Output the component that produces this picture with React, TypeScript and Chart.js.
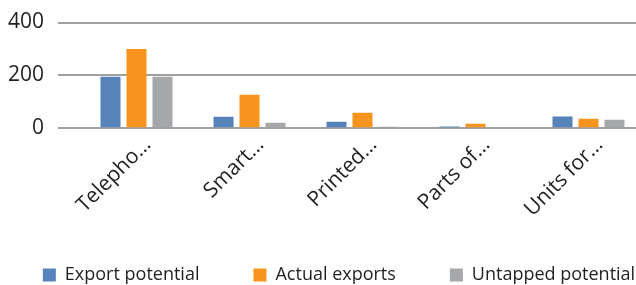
import React, { useEffect, useRef } from "react";
import { Chart, registerables } from "chart.js";

Chart.register(...registerables);

const categories = ["Telepho…", "Smart…", "Printed…", "Parts of…", "Units for…"];
const exportPotential = [195, 44, 25, 7, 45];
const actualExports = [300, 127, 59, 17, 36];
const untappedPotential = [195, 21, 6, 0, 32];
const yTicks = [0, 200, 400];

const FONT = "'Open Sans', 'Noto Sans', sans-serif";
const TEXT = "#231f20";

export default function App() {
  const ref = useRef<HTMLCanvasElement | null>(null);

  useEffect(() => {
    if (!ref.current) return;
    const chart = new Chart(ref.current, {
      type: "bar",
      data: {
        labels: categories,
        datasets: [
          { label: "Export potential", data: exportPotential, backgroundColor: "#5683b9", yAxisID: "y" },
          { label: "Actual exports", data: actualExports, backgroundColor: "#f7941e", yAxisID: "y" },
          { label: "Untapped potential", data: untappedPotential, backgroundColor: "#a6a7aa", yAxisID: "y" },
        ],
      },
      options: {
        animation: false,
        responsive: true,
        maintainAspectRatio: false,
        devicePixelRatio: 1,
        layout: { padding: { top: 22.5, left: 0, right: 0, bottom: 0 } },
        datasets: { bar: { categoryPercentage: 0.69, barPercentage: 0.77 } },
        plugins: {
          tooltip: { enabled: false },
          legend: {
            position: "bottom",
            labels: {
              boxWidth: 13,
              boxHeight: 13,
              padding: 54,
              color: TEXT,
              font: { family: FONT, size: 18 },
            },
          },
        },
        scales: {
          x: {
            grid: { display: false, drawTicks: false },
            border: { display: false },
            ticks: {
              autoSkip: false,
              maxRotation: 45,
              minRotation: 45,
              mirror: true,
              labelOffset: 29,
              padding: -22,
              color: TEXT,
              font: { family: FONT, size: 21 },
            },
            afterFit: (s: any) => {
              s.height = 83.7;
              s.paddingLeft = 0;
              s.paddingRight = 0;
            },
          },
          y: {
            min: 0,
            max: 400,
            afterBuildTicks: (s: any) => {
              s.ticks = yTicks.map((v) => ({ value: v }));
            },
            grid: { color: "#a0a0a0", lineWidth: 2, tickLength: 22, drawTicks: true },
            border: { display: false },
            ticks: {
              autoSkip: false,
              padding: 14,
              color: TEXT,
              font: { family: FONT, size: 21 },
            },
            afterFit: (s: any) => {
              s.width = 101;
              s.paddingTop = 0;
              s.paddingBottom = 0;
            },
          },
          y2: {
            position: "right",
            display: true,
            grid: { display: false, drawTicks: false },
            border: { display: false },
            ticks: { display: false },
            afterFit: (s: any) => {
              s.width = 54;
              s.paddingTop = 0;
              s.paddingBottom = 0;
            },
          },
        },
      },
    });
    return () => chart.destroy();
  }, []);

  return (
    <div
      style={{
        position: "fixed",
        left: 0,
        top: 0,
        width: 636,
        height: 285,
        overflow: "hidden",
        background: "#fff",
      }}
    >
      <div style={{ position: "absolute", left: -21, top: 0, width: 720, height: 294 }}>
        <canvas ref={ref} />
      </div>
    </div>
  );
}
